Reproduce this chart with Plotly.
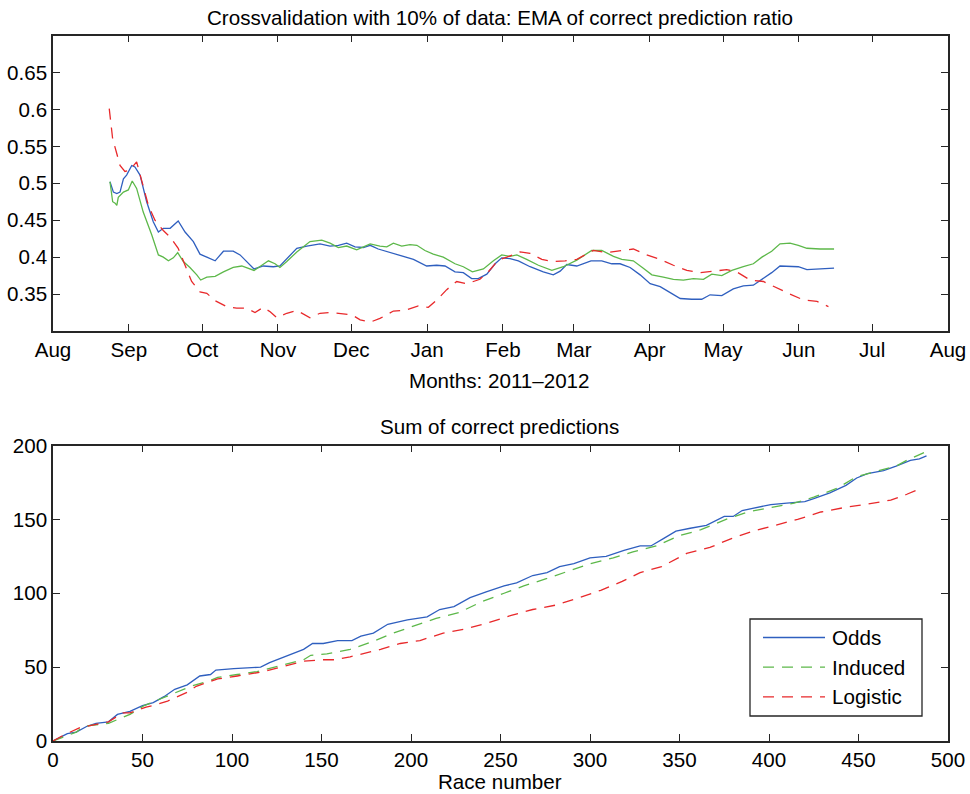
import pandas as pd
import plotly.graph_objects as go

# ---------------- Top chart: EMA of correct prediction ratio ----------------
# days since 2011-08-01
odds_ema_day = [23.3, 24.7, 26.1, 27.4, 28.8, 30.1, 32.2, 33.5, 35.6, 38.3,
                41.0, 43.1, 45.1, 47.9, 51.2, 54.0, 57.4, 60.1, 62.9, 66.3,
                69.7, 73.7, 76.5, 79.2, 82.2, 86.0, 90.1, 92.8, 95.6, 99.7,
                103.8, 109.2, 113.3, 116.7, 120.1, 123.5, 126.9, 129.7, 133.0, 137.1,
                141.9, 147.4, 152.8, 156.9, 160.3, 164.4, 167.8, 171.2, 173.9, 177.4,
                180.8, 183.5, 186.9, 190.3, 195.1, 200.5, 204.6, 207.4, 210.1, 214.2,
                220.0, 224.4, 228.5, 231.9, 236.0, 240.1, 244.2, 248.3, 252.4, 256.5,
                261.2, 265.3, 268.7, 273.5, 278.2, 282.3, 286.4, 290.5, 293.9, 297.3,
                301.4, 304.8, 308.3, 313.7, 319.4]
odds_ema_val = [0.502, 0.488, 0.486, 0.488, 0.506, 0.511, 0.524, 0.522, 0.511, 0.475,
                0.448, 0.434, 0.439, 0.439, 0.449, 0.434, 0.421, 0.404, 0.400, 0.395,
                0.408, 0.408, 0.403, 0.394, 0.384, 0.388, 0.387, 0.388, 0.398, 0.412,
                0.415, 0.418, 0.415, 0.416, 0.419, 0.414, 0.413, 0.416, 0.411, 0.407,
                0.403, 0.397, 0.388, 0.389, 0.388, 0.380, 0.379, 0.371, 0.371, 0.377,
                0.391, 0.399, 0.398, 0.395, 0.387, 0.380, 0.376, 0.381, 0.390, 0.388,
                0.395, 0.395, 0.391, 0.391, 0.386, 0.376, 0.364, 0.360, 0.352, 0.344,
                0.343, 0.343, 0.349, 0.348, 0.357, 0.361, 0.362, 0.371, 0.379, 0.388,
                0.388, 0.387, 0.383, 0.384, 0.385]

induced_ema_day = [23.3, 24.4, 25.4, 26.1, 26.7, 28.8, 30.8, 32.4, 34.2, 36.9,
                   40.4, 43.1, 45.1, 47.2, 49.2, 51.0, 53.3, 56.0, 58.8, 60.4,
                   62.9, 66.3, 69.7, 73.7, 77.2, 82.2, 85.4, 88.1, 90.8, 92.8,
                   95.6, 99.7, 105.1, 109.9, 113.3, 116.7, 120.1, 124.2, 129.7, 133.7,
                   136.5, 139.2, 142.6, 146.0, 148.8, 152.1, 155.5, 159.6, 164.4, 167.8,
                   171.5, 176.0, 180.1, 183.5, 186.9, 189.7, 193.7, 198.5, 204.0, 208.7,
                   214.2, 220.3, 224.4, 229.2, 232.6, 237.3, 241.4, 244.9, 249.6, 253.7,
                   257.8, 261.9, 266.0, 269.4, 273.5, 277.6, 282.3, 286.4, 289.9, 293.9,
                   297.3, 301.4, 304.8, 308.3, 313.7, 319.4]
induced_ema_val = [0.502, 0.475, 0.473, 0.470, 0.481, 0.488, 0.491, 0.503, 0.493, 0.461,
                   0.430, 0.403, 0.400, 0.395, 0.399, 0.406, 0.394, 0.386, 0.376, 0.369,
                   0.373, 0.374, 0.380, 0.386, 0.388, 0.382, 0.389, 0.395, 0.391, 0.386,
                   0.394, 0.407, 0.421, 0.423, 0.419, 0.413, 0.415, 0.410, 0.418, 0.415,
                   0.414, 0.419, 0.415, 0.417, 0.416, 0.409, 0.404, 0.400, 0.391, 0.387,
                   0.380, 0.384, 0.395, 0.403, 0.401, 0.403, 0.397, 0.389, 0.382, 0.387,
                   0.396, 0.409, 0.409, 0.401, 0.397, 0.395, 0.385, 0.376, 0.373, 0.370,
                   0.369, 0.371, 0.370, 0.377, 0.375, 0.382, 0.387, 0.391, 0.400, 0.408,
                   0.418, 0.419, 0.416, 0.412, 0.411, 0.411]

logistic_ema_day = [23.0, 24.4, 26.1, 27.4, 29.4, 31.5, 34.2, 36.3, 39.0, 41.7,
                    45.1, 47.9, 51.2, 54.0, 56.7, 60.1, 62.9, 66.3, 71.0, 75.1,
                    79.2, 82.6, 86.0, 88.8, 91.5, 95.6, 99.7, 105.1, 109.2, 113.3,
                    117.0, 122.2, 125.6, 129.7, 133.7, 139.2, 144.0, 149.4, 153.5, 157.6,
                    161.0, 165.1, 169.2, 174.6, 178.0, 182.1, 185.6, 191.0, 195.1, 199.9,
                    204.0, 209.4, 214.2, 221.0, 226.5, 231.9, 237.3, 242.8, 248.3, 253.7,
                    259.2, 264.6, 270.1, 275.5, 279.6, 285.1, 290.5, 296.0, 301.4, 306.9,
                    312.4, 317.1]
logistic_ema_val = [0.601, 0.560, 0.540, 0.524, 0.516, 0.518, 0.529, 0.502, 0.470, 0.450,
                    0.436, 0.427, 0.412, 0.389, 0.367, 0.353, 0.351, 0.341, 0.333, 0.331,
                    0.331, 0.325, 0.332, 0.326, 0.318, 0.324, 0.328, 0.318, 0.324, 0.325,
                    0.324, 0.322, 0.315, 0.312, 0.317, 0.327, 0.328, 0.334, 0.332, 0.344,
                    0.356, 0.367, 0.364, 0.370, 0.380, 0.396, 0.400, 0.407, 0.405, 0.397,
                    0.394, 0.395, 0.397, 0.409, 0.406, 0.408, 0.411, 0.403, 0.397, 0.389,
                    0.382, 0.379, 0.381, 0.383, 0.380, 0.369, 0.367, 0.358, 0.350, 0.342,
                    0.340, 0.333]

month_ticks = ["2011-08-01", "2011-09-01", "2011-10-01", "2011-11-01", "2011-12-01",
               "2012-01-01", "2012-02-01", "2012-03-01", "2012-04-01", "2012-05-01",
               "2012-06-01", "2012-07-01", "2012-08-01"]
month_labels = ["Aug", "Sep", "Oct", "Nov", "Dec", "Jan", "Feb", "Mar", "Apr",
                "May", "Jun", "Jul", "Aug"]
ratio_ticks = [0.35, 0.4, 0.45, 0.5, 0.55, 0.6, 0.65]

# ---------------- Bottom chart: cumulative correct predictions ----------------
odds_race = [0, 8, 13, 19, 24, 31, 36, 43, 50, 56,
             62, 68, 75, 82, 88, 91, 101, 112, 116, 121,
             127, 132, 140, 145, 151, 159, 167, 172, 179, 187,
             198, 209, 216, 224, 233, 242, 252, 259, 268, 276,
             283, 291, 300, 309, 319, 328, 334, 341, 348, 356,
             365, 375, 380, 385, 393, 401, 410, 420, 425, 434,
             443, 449, 455, 464, 471, 479, 484, 488]
odds_sum = [0, 5, 6, 10, 12, 13, 18, 20, 24, 26,
            30, 35, 38, 44, 45, 48, 49, 50, 50, 53,
            56, 58, 62, 66, 66, 68, 68, 71, 73, 79,
            82, 84, 89, 91, 97, 101, 105, 107, 112, 114,
            118, 120, 124, 125, 129, 132, 132, 137, 142, 144,
            146, 152, 152, 156, 158, 160, 161, 162, 164, 168,
            173, 178, 181, 183, 186, 190, 191, 193]

induced_race = [0, 13, 17, 26, 31, 39, 43, 51, 63, 77,
                88, 92, 103, 114, 127, 140, 144, 153, 166, 178,
                190, 202, 214, 227, 239, 252, 263, 276, 288, 300,
                313, 324, 337, 350, 362, 376, 388, 401, 414, 425,
                438, 449, 462, 471, 477, 488]
induced_sum = [0, 6, 10, 11, 12, 16, 18, 24, 30, 37,
               41, 43, 45, 47, 51, 55, 58, 59, 62, 67,
               73, 78, 83, 87, 94, 100, 105, 110, 115, 120,
               124, 128, 132, 139, 143, 150, 155, 158, 161, 165,
               171, 179, 183, 186, 190, 196]

logistic_race = [0, 6, 15, 26, 31, 39, 43, 52, 56, 64,
                 75, 80, 88, 92, 103, 114, 118, 127, 140, 151,
                 157, 166, 183, 194, 205, 218, 231, 243, 256, 268,
                 281, 294, 306, 318, 328, 340, 354, 367, 379, 391,
                 404, 416, 429, 442, 453, 468, 477, 483]
logistic_sum = [0, 4, 9, 12, 13, 19, 19, 23, 24, 27,
                33, 37, 40, 42, 44, 46, 47, 50, 54, 55,
                55, 57, 62, 66, 68, 73, 76, 80, 85, 89,
                92, 97, 102, 108, 114, 118, 127, 131, 137, 142,
                146, 150, 155, 158, 160, 163, 167, 170]

series_names = ["Odds", "Induced", "Logistic"]

# ---------------- styling ----------------
BLUE = "#2f5fbf"
GREEN = "#5db84a"
RED = "#e8292b"
DASH = "11px,8px"
FONT = "Liberation Sans, Arial, Helvetica, sans-serif"
FS = 20.6
AXC = "#262626"

base = pd.Timestamp("2011-08-01")


def to_dates(days):
    return base + pd.to_timedelta(days, unit="D")


fig = go.Figure()

fig.add_trace(go.Scatter(x=to_dates(odds_ema_day), y=odds_ema_val, mode="lines",
                         line=dict(color=BLUE, width=1.3), name="Odds",
                         xaxis="x", yaxis="y", showlegend=False))
fig.add_trace(go.Scatter(x=to_dates(induced_ema_day), y=induced_ema_val, mode="lines",
                         line=dict(color=GREEN, width=1.3), name="Induced",
                         xaxis="x", yaxis="y", showlegend=False))
fig.add_trace(go.Scatter(x=to_dates(logistic_ema_day), y=logistic_ema_val, mode="lines",
                         line=dict(color=RED, width=1.3, dash=DASH), name="Logistic",
                         xaxis="x", yaxis="y", showlegend=False))

fig.add_trace(go.Scatter(x=odds_race, y=odds_sum, mode="lines",
                         line=dict(color=BLUE, width=1.3), name=series_names[0],
                         xaxis="x2", yaxis="y2", showlegend=False))
fig.add_trace(go.Scatter(x=induced_race, y=induced_sum, mode="lines",
                         line=dict(color=GREEN, width=1.3, dash=DASH), name=series_names[1],
                         xaxis="x2", yaxis="y2", showlegend=False))
fig.add_trace(go.Scatter(x=logistic_race, y=logistic_sum, mode="lines",
                         line=dict(color=RED, width=1.3, dash=DASH), name=series_names[2],
                         xaxis="x2", yaxis="y2", showlegend=False))

W, H = 970, 794


def px_x(p):
    return p / W


def px_y(p):
    return 1 - p / H


axis_common = dict(showline=True, linecolor=AXC, linewidth=1.5, mirror="ticks",
                   ticks="inside", ticklen=7, tickwidth=1, tickcolor=AXC,
                   showgrid=False, zeroline=False, automargin=False,
                   tickfont=dict(family=FONT, size=FS, color="black"))

fig.update_layout(
    width=W, height=H,
    margin=dict(l=0, r=0, t=0, b=0, autoexpand=False),
    paper_bgcolor="white", plot_bgcolor="white",
    font=dict(family=FONT, size=FS, color="black"),
    xaxis=dict(domain=[px_x(53), px_x(948)], anchor="y", type="date",
               range=[month_ticks[0], month_ticks[-1]],
               tickvals=month_ticks, ticktext=month_labels, **axis_common),
    yaxis=dict(domain=[px_y(331), px_y(35.5)], anchor="x",
               range=[0.3, 0.7], tickvals=ratio_ticks, **axis_common),
    xaxis2=dict(domain=[px_x(53), px_x(948)], anchor="y2",
                range=[0, 500], dtick=50, **axis_common),
    yaxis2=dict(domain=[px_y(741), px_y(445.5)], anchor="x2",
                range=[0, 200], dtick=50, **axis_common),
)

annos = [
    ("Crossvalidation with 10% of data: EMA of correct prediction ratio", 500, 17),
    ("Months: 2011\u20132012", 500, 380),
    ("Sum of correct predictions", 500, 427),
    ("Race number", 500, 781),
]
for txt, ax_, ay_ in annos:
    fig.add_annotation(text=txt, xref="paper", yref="paper", x=px_x(ax_), y=px_y(ay_),
                       xanchor="center", yanchor="middle", showarrow=False,
                       font=dict(family=FONT, size=FS, color="black"))

# manual legend (box, line samples, labels)
fig.add_shape(type="rect", xref="paper", yref="paper",
              x0=px_x(750), x1=px_x(922), y0=px_y(716), y1=px_y(619),
              line=dict(color=AXC, width=1.3), fillcolor="white", layer="above")
legend_styles = [(BLUE, "solid"), (GREEN, DASH), (RED, DASH)]
for i, (name, (col, dsh)) in enumerate(zip(series_names, legend_styles)):
    yy = px_y(637.5 + 29.7 * i)
    fig.add_shape(type="line", xref="paper", yref="paper",
                  x0=px_x(763), x1=px_x(825), y0=yy, y1=yy,
                  line=dict(color=col, width=1.3, dash=dsh), layer="above")
    fig.add_annotation(text=name, xref="paper", yref="paper", x=px_x(830), y=yy,
                       xanchor="left", yanchor="middle", showarrow=False,
                       font=dict(family=FONT, size=FS, color="black"))

fig.write_html("out.html",
               config={"displayModeBar": False},
               post_script="document.body.style.margin='0';"
                           "document.body.style.overflow='hidden';")
